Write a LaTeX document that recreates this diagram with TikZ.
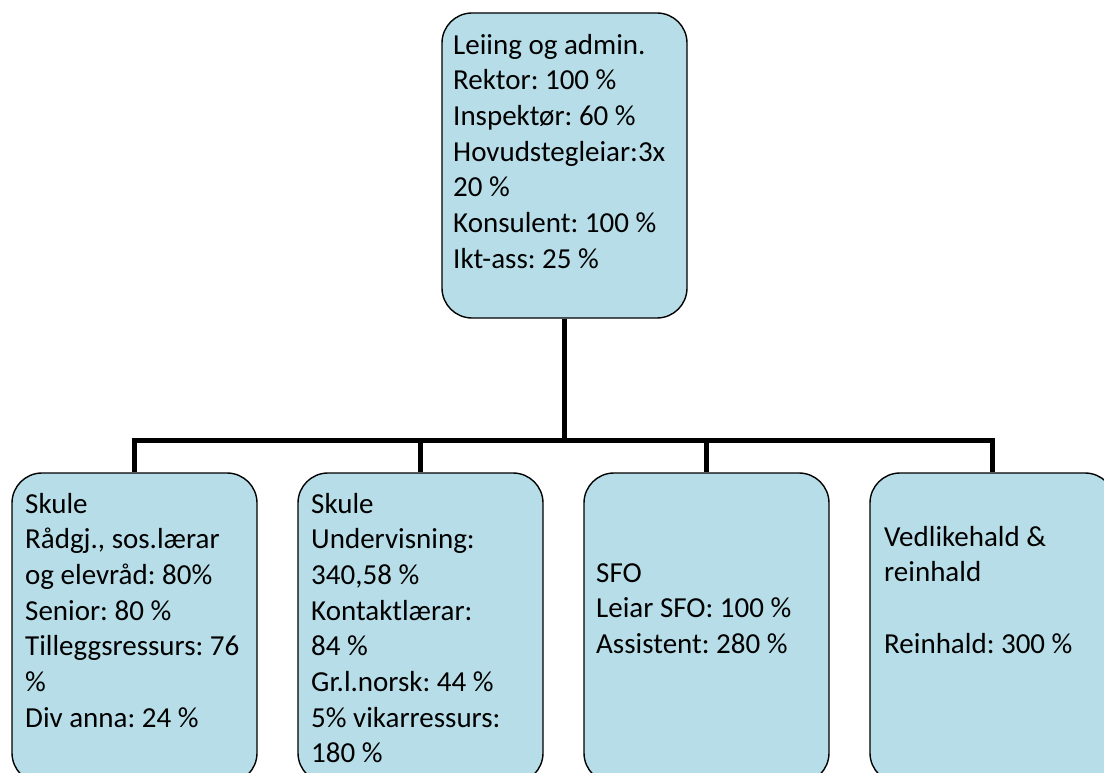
\documentclass[tikz,border=0pt]{standalone}
\usepackage{fontspec}
\setmainfont{Carlito}
\definecolor{boxfill}{HTML}{B7DEE8}
\tikzset{
  unitbox/.style={draw=black, line width=1.4pt, fill=boxfill, rounded corners=30pt,
    minimum width=245pt, minimum height=#1, inner sep=0pt},
  unittext/.style={anchor=base west, inner sep=0pt, align=left,
    font=\fontsize{29}{35.7}\selectfont\frenchspacing},
  conn/.style={line width=5pt, line join=miter}
}
\begin{document}
\begin{tikzpicture}[x=1pt,y=-1pt]
        \useasboundingbox (0,0) rectangle (1104,773);
        % boxes
        \node[unitbox=305pt] (lead) at (564.5,165.5) {};
        \begin{scope}[every node/.style={unitbox=310pt}]
            \node (skuleA) at (134.5,628) {};
            \node (skuleB) at (420.5,628) {};
            \node (sfo) at (706.5,628) {};
            \node (vedl) at (992.5,628) {};
        \end{scope}
        \coordinate (bar) at (0,440);
        % texts (placed at the baseline of their last line)
        \node[unittext] (leadtxt) at (453,268.2) {Leiing og admin.\\Rektor: 100 \%\\Inspektør: 60 \%\\Hovudstegleiar:3x\\20 \%\\Konsulent: 100 \%\\Ikt-ass: 25 \%};
        \node[unittext] (skuleAtxt) at (25,727.2) {Skule\\Rådgj., sos.lærar\\og elevråd: 80\%\\Senior: 80 \%\\Tilleggsressurs: 76\\\%\\Div anna: 24 \%};
        \node[unittext] (skuleBtxt) at (311,762.9) {Skule\\Undervisning:\\340,58 \%\\Kontaktlærar:\\84 \%\\Gr.l.norsk: 44 \%\\5\% vikarressurs:\\180 \%};
        \node[unittext] (sfotxt) at (596,653.4) {SFO\\Leiar SFO: 100 \%\\Assistent: 280 \%};
        \node[unittext] (vedltxt) at (884,653.1) {Vedlikehald \&\\reinhald\\[35.7pt]Reinhald: 300 \%};
        % connectors
        \draw[conn] (lead.south) -- (lead.south |- bar);
        \draw[conn] (skuleA.north) -- (skuleA.north |- bar) -- (vedl.north |- bar) -- (vedl.north);
        \draw[conn] (skuleB.north) -- (skuleB.north |- bar);
        \draw[conn] (sfo.north) -- (sfo.north |- bar);
\end{tikzpicture}
\end{document}
